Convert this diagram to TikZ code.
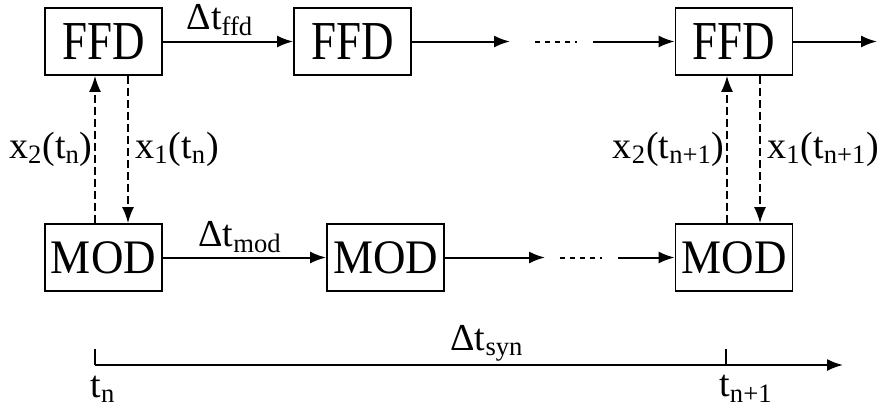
\documentclass[tikz,border=0pt]{standalone}
\usepackage{graphicx}
\usepackage{fontspec}
\setmainfont{Liberation Serif}
\usetikzlibrary{arrows.meta,positioning,calc}

\tikzset{
  blk/.style={draw,line width=0.9pt,minimum width=58.5pt,minimum height=33.5pt,inner sep=0pt,font=\fontsize{22.5}{26}\selectfont},
  flow/.style={-{Latex[length=8pt,width=6pt]},line width=1pt},
  xfer/.style={-{Latex[length=8pt,width=6pt]},line width=0.8pt,dash pattern=on 4pt off 2pt},
  gapline/.style={line width=1pt,dash pattern=on 2.5pt off 2.5pt},
  lbl/.style={font=\fontsize{19}{23}\selectfont,inner sep=1pt}
}
\newcommand{\tallffd}{\scalebox{1}[1.22]{FFD}}
\newcommand{\tallmod}{\scalebox{1}[1.07]{MOD}}

\begin{document}
\begin{tikzpicture}[x=0.5pt,y=-0.5pt]
\useasboundingbox (0,0) rectangle (881,408);

% top row
\node[blk] (ffdA) at (103.5,41.5) {\raisebox{-2pt}{\tallffd}};
\node[blk] (ffdB) at (352.5,41.5) {\raisebox{-2pt}{\tallffd}};
\node[blk] (ffdC) at (734,41.5) {\raisebox{-2pt}{\tallffd}};
\coordinate (fa) at (510,41.5);
\coordinate (fb) at (535,41.5);
\coordinate (fc) at (577,41.5);
\coordinate (fd) at (593,41.5);
\coordinate (fe) at (877,41.5);
\draw[flow] (ffdA) -- (ffdB);
\node[lbl] (dtffd) at (220,20) {Δt\textsubscript{ffd}};
\draw[flow] (ffdB) -- (fa);
\draw[gapline] (fb) -- (fc);
\draw[flow] (fd) -- (ffdC);
\draw[flow] (ffdC) -- (fe);

% bottom row
\node[blk] (modA) at (103.5,257.5) {\tallmod};
\node[blk] (modB) at (385.5,257.5) {\tallmod};
\node[blk] (modC) at (734,257.5) {\tallmod};
\coordinate (ma) at (545,257.5);
\coordinate (mb) at (560,257.5);
\coordinate (mc) at (602,257.5);
\coordinate (md) at (618,257.5);
\draw[flow] (modA) -- (modB);
\node[lbl] (dtmod) at (240,237) {Δt\textsubscript{mod}};
\draw[flow] (modB) -- (ma);
\draw[gapline] (mb) -- (mc);
\draw[flow] (md) -- (modC);

% exchange between the rows
\draw[xfer] ($(modA.north)+(-8.5,0)$) -- ($(ffdA.south)+(-8.5,0)$);
\draw[xfer] ($(ffdA.south)+(24.5,0)$) -- ($(modA.north)+(24.5,0)$);
\draw[xfer] ($(modC.north)+(-7,0)$) -- ($(ffdC.south)+(-7,0)$);
\draw[xfer] ($(ffdC.south)+(26,0)$) -- ($(modC.north)+(26,0)$);
\node[lbl,anchor=east] (xtwoA) at (95,149) {x\textsubscript{2}(t\textsubscript{n})};
\node[lbl,anchor=west] (xoneA) at (133,149) {x\textsubscript{1}(t\textsubscript{n})};
\node[lbl,anchor=east] (xtwoC) at (727,149) {x\textsubscript{2}(t\textsubscript{n+1})};
\node[lbl,anchor=west] (xoneC) at (765,149) {x\textsubscript{1}(t\textsubscript{n+1})};

% time axis
\coordinate (tzero) at (95,365);
\coordinate (tone) at (726,365);
\coordinate (tend) at (843,365);
\draw[flow] (tzero) -- (tend);
\draw[line width=1pt] (tzero) -- ++(0,-16);
\draw[line width=1pt] (tone) -- ++(0,-16);
\node[lbl] (dtsyn) at (487,343) {Δt\textsubscript{syn}};
\node[lbl] (tnA) at (103,389) {t\textsubscript{n}};
\node[lbl] (tnB) at (746,389) {t\textsubscript{n+1}};
\end{tikzpicture}
\end{document}
